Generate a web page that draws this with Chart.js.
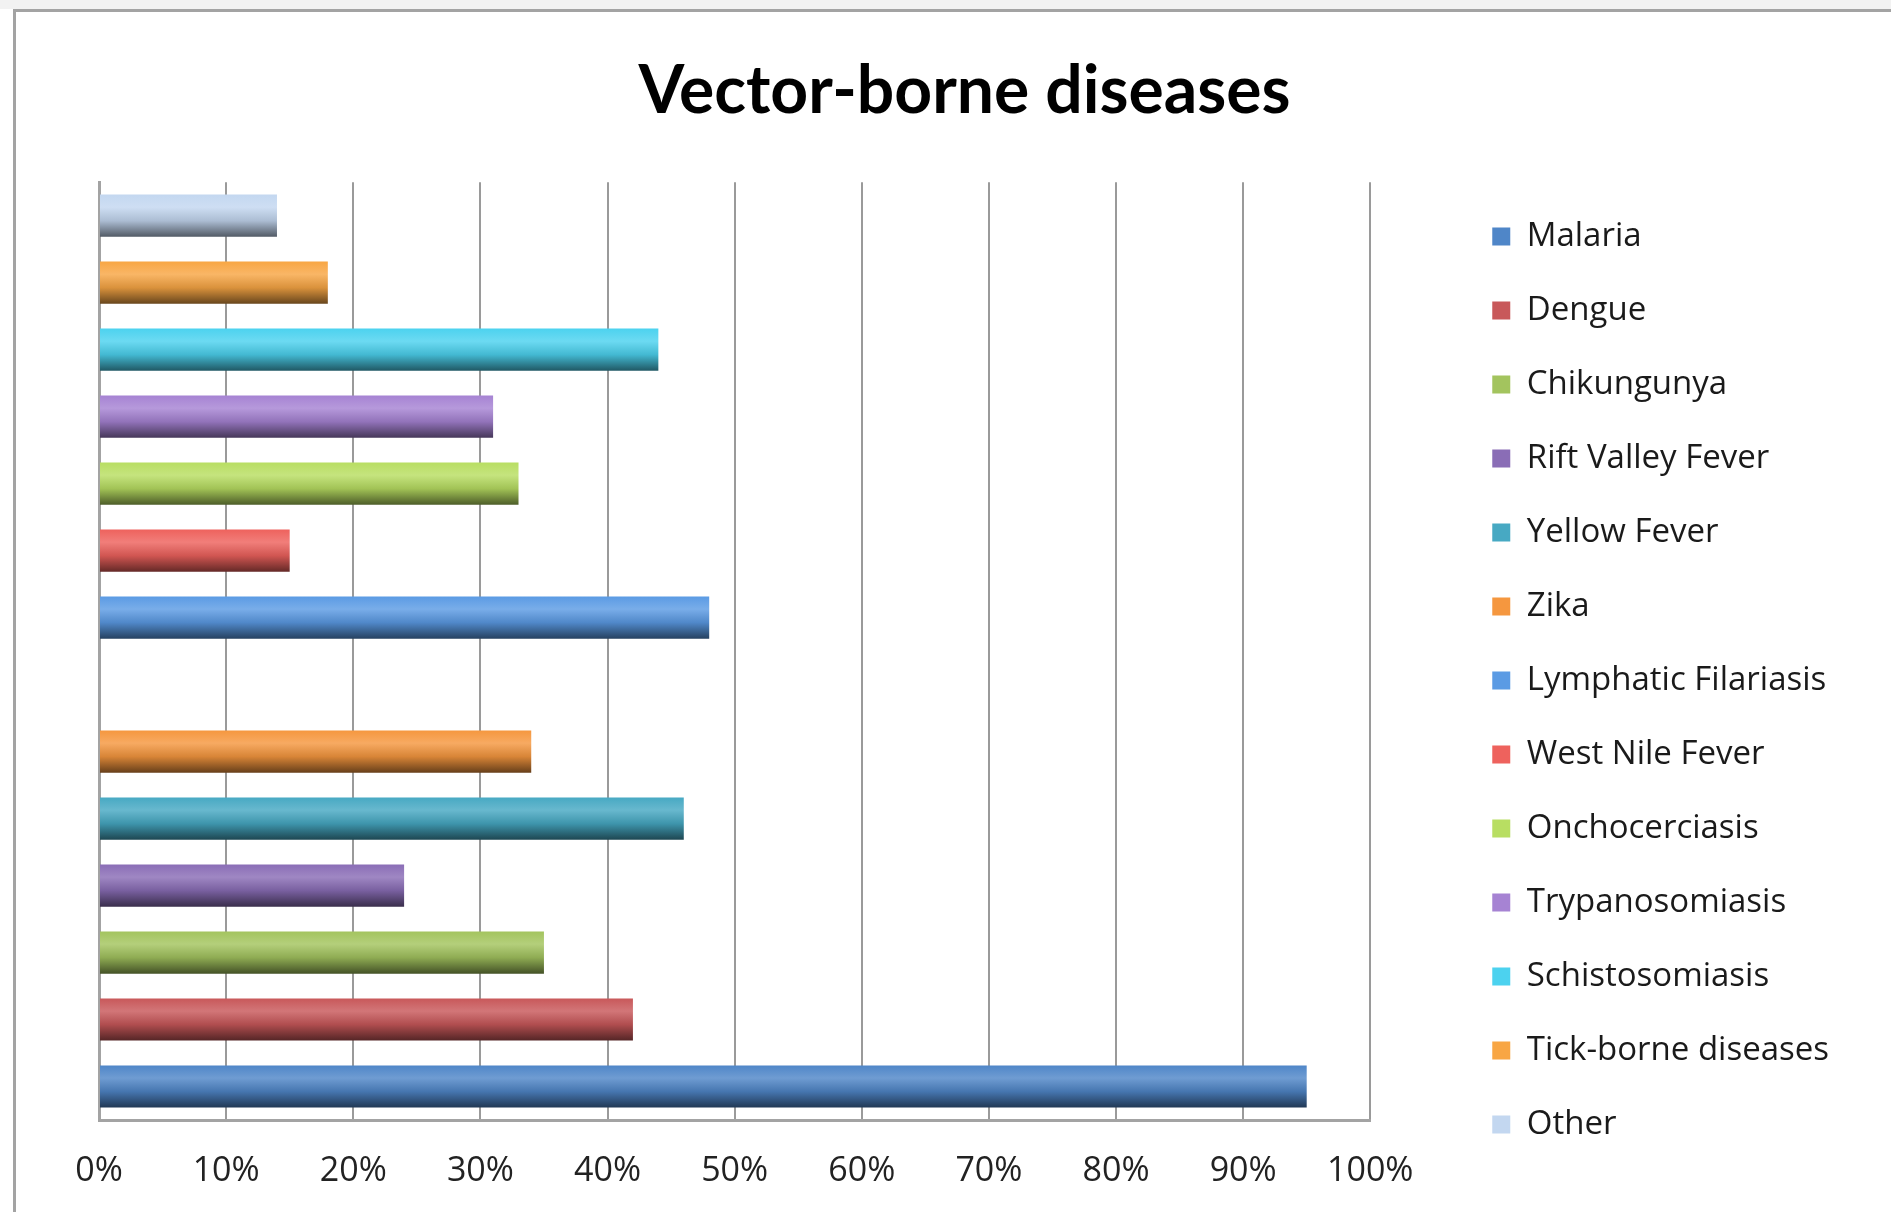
<!DOCTYPE html>
<html>
<head>
<meta charset="utf-8">
<title>Vector-borne diseases</title>
<script src="https://cdn.jsdelivr.net/npm/chart.js@4.4.1/dist/chart.umd.min.js"></script>
<style>
  html, body { margin: 0; padding: 0; background: #fff; }
  body { width: 1891px; height: 1212px; position: relative; overflow: hidden; }
  .strip { position: absolute; left: 0; top: 0; width: 1891px; height: 9px; background: #f2f2f2; }
  .frame { position: absolute; left: 13px; top: 9px; width: 2000px; height: 1300px;
           border-left: 3px solid #a3a3a3; border-top: 3px solid #a3a3a3; }
  #chart { position: absolute; left: 0; top: 0; }
</style>
</head>
<body>
<div class="strip"></div>
<div class="frame"></div>
<canvas id="chart" width="1891" height="1212"></canvas>
<script>
// series, in legend order
const diseases = [
    "Malaria", "Dengue", "Chikungunya", "Rift Valley Fever", "Yellow Fever", "Zika",
    "Lymphatic Filariasis", "West Nile Fever", "Onchocerciasis", "Trypanosomiasis",
    "Schistosomiasis", "Tick-borne diseases", "Other"
];
const shares = [95, 42, 35, 24, 46, 34, 48, 15, 33, 31, 44, 18, 14];

// rows from the bottom up, one empty row between the two groups
const rows = [
    "Malaria", "Dengue", "Chikungunya", "Rift Valley Fever", "Yellow Fever", "Zika", "",
    "Lymphatic Filariasis", "West Nile Fever", "Onchocerciasis", "Trypanosomiasis",
    "Schistosomiasis", "Tick-borne diseases", "Other"
];

const tickLabels = ["0%", "10%", "20%", "30%", "40%", "50%", "60%", "70%", "80%", "90%", "100%"];

const colors = [
    "#4f86c8", "#c8585a", "#a3c45e", "#8a6db6", "#47a9c3", "#f5973f",
    "#5b9be4", "#ee625d", "#b8de62", "#a683d3", "#4cd2ef", "#f8a644", "#c3d7f0"
];

const BAR = 0.63;

function mix(hex, target, amt) {
    const n = parseInt(hex.slice(1), 16);
    const r = (n >> 16) & 255, g = (n >> 8) & 255, b = n & 255;
    const t = target === "w" ? 255 : 0;
    const f = c => Math.round(c + (t - c) * amt);
    return "rgb(" + f(r) + "," + f(g) + "," + f(b) + ")";
}

function barFill(base) {
    return (ctx) => {
        const chart = ctx.chart;
        if (ctx.type !== "data" || ctx.raw == null || !chart.chartArea) return base;
        const y = chart.scales.y;
        const center = y.getPixelForValue(ctx.dataIndex);
        const half = (y.height / rows.length) * BAR / 2;
        const g = chart.ctx.createLinearGradient(0, center - half, 0, center + half);
        g.addColorStop(0, base);
        g.addColorStop(0.3, mix(base, "w", 0.18));
        g.addColorStop(0.62, mix(base, "k", 0.12));
        g.addColorStop(1, mix(base, "k", 0.58));
        return g;
    };
}

const datasets = diseases.map((name, i) => ({
    label: name,
    data: rows.map(r => (r === name ? shares[i] : null)),
    backgroundColor: barFill(colors[i]),
    borderWidth: 0
}));

new Chart(document.getElementById("chart"), {
    type: "bar",
    data: { labels: rows, datasets: datasets },
    options: {
        indexAxis: "y",
        responsive: false,
        animation: false,
        datasets: { bar: { categoryPercentage: 1, barPercentage: BAR } },
        layout: { padding: { left: 90, right: 52, top: 0, bottom: 17 } },
        scales: {
            x: {
                stacked: true,
                min: 0,
                max: 100,
                ticks: {
                    stepSize: 10,
                    padding: 31,
                    color: "#222",
                    font: { family: "Open Sans", size: 34 },
                    callback: (v, i) => tickLabels[i]
                },
                grid: { color: "#9a9a9a", lineWidth: 2, drawTicks: false },
                border: { color: "#a3a3a3", width: 3 },
                afterFit: s => { s.height = 75; }
            },
            y: {
                stacked: true,
                reverse: true,
                ticks: { display: false },
                grid: { display: false, drawTicks: false },
                border: { color: "#a3a3a3", width: 3 },
                afterFit: s => { s.width = 9; }
            },
            pad: {
                type: "linear",
                position: "right",
                display: true,
                ticks: { display: false },
                grid: { display: false, drawTicks: false },
                border: { display: false },
                afterFit: s => { s.width = 81; }
            }
        },
        plugins: {
            title: {
                display: true,
                text: "Vector-borne diseases",
                color: "#000",
                font: { family: "Lato", size: 66, weight: "bold" },
                padding: { top: 52, bottom: 51 }
            },
            legend: {
                position: "right",
                align: "start",
                maxWidth: 420,
                title: { display: true, text: "", font: { size: 10 }, padding: { top: 167, bottom: 0 } },
                labels: {
                    color: "#1a1a1a",
                    font: { family: "Open Sans", size: 33 },
                    boxWidth: 18,
                    boxHeight: 18,
                    padding: 41
                }
            },
            tooltip: { enabled: false }
        }
    }
});
</script>
</body>
</html>
